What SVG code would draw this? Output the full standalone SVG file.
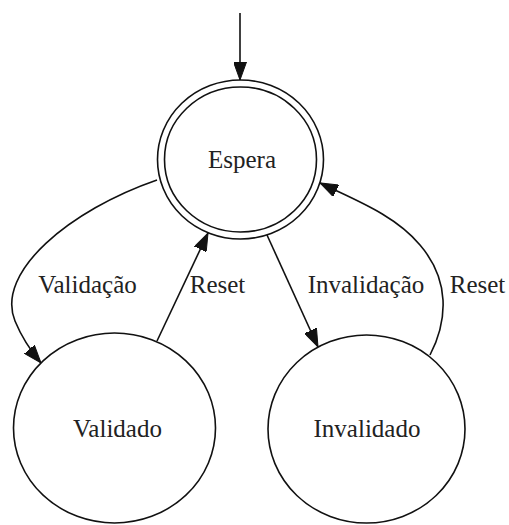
<svg xmlns="http://www.w3.org/2000/svg" width="509" height="525" viewBox="0 0 509 525">
<style>
.node{fill:#fff;stroke:#111;stroke-width:1.6}
.edge{fill:none;stroke:#111;stroke-width:1.6}
text{font-family:"Liberation Serif","Times New Roman",serif;font-size:25px;fill:#222;text-anchor:middle}
</style>
<defs>
<marker id="arr" viewBox="0 0 18 13" refX="18" refY="6.5" markerWidth="18" markerHeight="13" markerUnits="userSpaceOnUse" orient="auto">
<path d="M0,0 L18,6.5 L0,13 Z" fill="#111" stroke="#111" stroke-width="1"/>
</marker>
</defs>
<rect width="509" height="525" fill="#fff"/>
<g id="connectors">
<path class="edge" d="M240,13 L240,80" marker-end="url(#arr)"/>
<path class="edge" d="M157,180 C70,210 -5,272 15,321 C22,338 30,350 41,363" marker-end="url(#arr)"/>
<path class="edge" d="M157,341 L208,233" marker-end="url(#arr)"/>
<path class="edge" d="M267,235 L318,347" marker-end="url(#arr)"/>
<path class="edge" d="M430,355 C448,320 450,280 420,245 C395,215 355,200 320,183" marker-end="url(#arr)"/>
<text x="87.5" y="293">Validação</text>
<text x="217.5" y="293">Reset</text>
<text x="366" y="293">Invalidação</text>
<text x="477.5" y="293">Reset</text>
</g>
<g id="espera">
<ellipse class="node" cx="240.5" cy="159.5" rx="83" ry="79.5"/>
<ellipse class="node" cx="240.5" cy="159.5" rx="76" ry="72.5"/>
<text x="242" y="167.5">Espera</text>
</g>
<g id="validado">
<ellipse class="node" cx="114.5" cy="428" rx="101" ry="95"/>
<text x="117.5" y="437">Validado</text>
</g>
<g id="invalidado">
<ellipse class="node" cx="366.5" cy="429" rx="98.5" ry="94"/>
<text x="367" y="437">Invalidado</text>
</g>
</svg>
